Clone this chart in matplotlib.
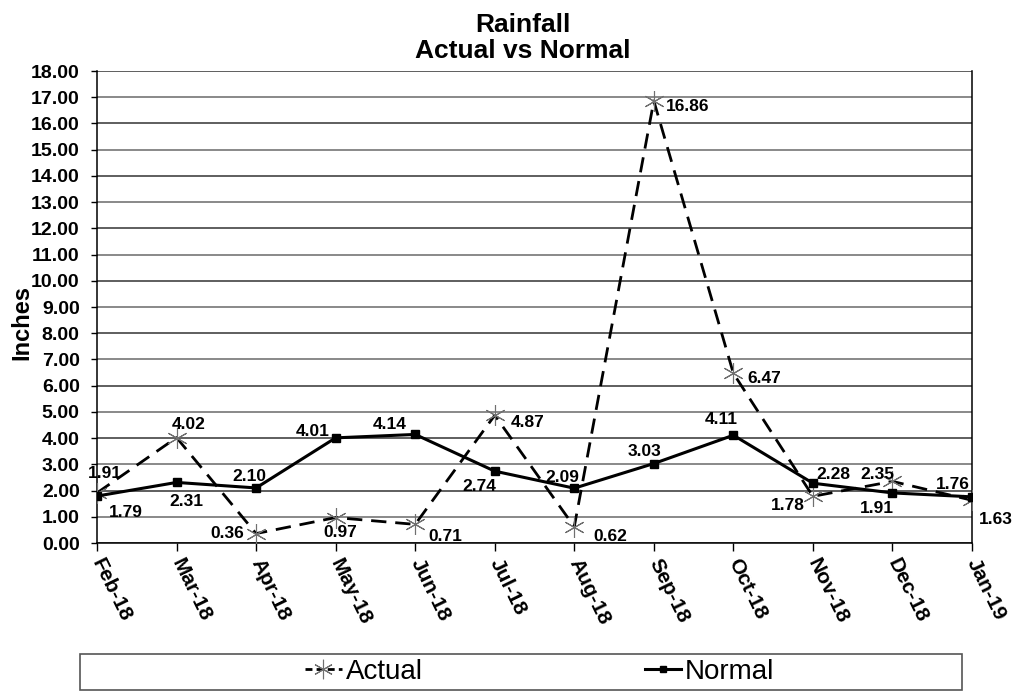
import matplotlib
matplotlib.use("Agg")
import matplotlib.pyplot as plt
from matplotlib.lines import Line2D
from matplotlib.patches import Rectangle
import numpy as np

months = ["Feb-18", "Mar-18", "Apr-18", "May-18", "Jun-18", "Jul-18",
          "Aug-18", "Sep-18", "Oct-18", "Nov-18", "Dec-18", "Jan-19"]
actual = [1.91, 4.02, 0.36, 0.97, 0.71, 4.87, 0.62, 16.86, 6.47, 1.78, 2.35, 1.63]
normal = [1.79, 2.31, 2.10, 4.01, 4.14, 2.74, 2.09, 3.03, 4.11, 2.28, 1.91, 1.76]
yticks = np.arange(0, 19, 1)

plt.rcParams['font.family'] = ['Liberation Sans', 'DejaVu Sans']

W, H = 1015, 692
fig = plt.figure(figsize=(W / 100, H / 100), dpi=100)
ax = fig.add_axes([97 / W, 1 - 543 / H, 875 / W, (543 - 71) / H])

x = np.arange(len(months))
ax.plot(x, actual, color='black', lw=2.0, dashes=(5.5, 3.2), zorder=3)
ax.plot(x, actual, ls='none', marker=(6, 2, 0), ms=15, mew=0.8, mec='#707070', zorder=4)
ax.plot(x, normal, color='black', lw=2.2, marker='s', ms=6, zorder=5)

ax.set_xlim(0, len(months) - 1)
ax.set_ylim(0, 18)
ax.set_yticks(yticks)
ax.set_yticklabels([f"{v:.2f}" for v in yticks], fontsize=14, fontweight='bold')
ax.set_xticks(x)
ax.set_xticklabels(months, rotation=-64, ha='left', va='center', fontsize=15,
                   fontweight='bold', rotation_mode='anchor')
ax.tick_params(axis='x', direction='out', length=6, width=1, pad=6)
ax.tick_params(axis='y', direction='out', length=4.5, width=1, pad=8)
for v in yticks:
    ax.axhline(v, color='#333333' if v % 2 == 0 else '#6a6a6a', lw=1.1, zorder=1)
for s in ['left', 'right', 'bottom']:
    ax.spines[s].set_color('black')
    ax.spines[s].set_linewidth(1.1)
ax.spines['top'].set_visible(False)

fig.text(22 / W, 1 - 322 / H, "Inches", rotation=90, ha='center', va='center',
         fontsize=17, fontweight='bold')
fig.text(523 / W, 1 - 38 / H, "Rainfall\nActual vs Normal", ha='center', va='center',
         fontsize=19, fontweight='bold', linespacing=1.15)

a_off = [(6, 14), (8.5, 9.5), (-21, 0), (3.5, -11), (22, -8.5), (23.5, -5.5),
         (26, -7), (24, -4), (22, -4), (-18, -6.5), (-11, 5), (17, -14)]
n_off = [(21, -12), (7, -13.5), (-5, 8), (-16.5, 4.5), (-18, 7), (-11, -11),
         (-8.5, 8), (-6.5, 8.5), (-9, 11), (15, 6.5), (-11, -11.5), (-14, 9)]
for i in range(len(months)):
    ax.annotate(f"{actual[i]:.2f}", (x[i], actual[i]), xytext=a_off[i],
                textcoords='offset points', ha='center', va='center',
                fontsize=12.5, fontweight='bold', zorder=6, annotation_clip=False)
    ax.annotate(f"{normal[i]:.2f}", (x[i], normal[i]), xytext=n_off[i],
                textcoords='offset points', ha='center', va='center',
                fontsize=12.5, fontweight='bold', zorder=6, annotation_clip=False)

# legend box
fig.patches.append(Rectangle((80 / W, 1 - 690 / H), (962 - 80) / W, (690 - 654) / H,
                             transform=fig.transFigure, fill=False,
                             edgecolor='#555555', lw=1.2))
h1 = Line2D([], [], color='black', lw=2.0, dashes=(2.5, 1.5), marker=(6, 2, 0), ms=14,
            mew=0.8, mec='#707070')
h2 = Line2D([], [], color='black', lw=2.2, marker='s', ms=5)
leg = fig.legend([h1, h2], ["Actual", "Normal"], loc='center',
                 bbox_to_anchor=(540 / W, 1 - 672 / H), ncol=2, fontsize=20,
                 frameon=False, handlelength=1.3, handletextpad=0.15,
                 columnspacing=8.0, borderpad=0.1)

fig.savefig("out.png", dpi=100)
